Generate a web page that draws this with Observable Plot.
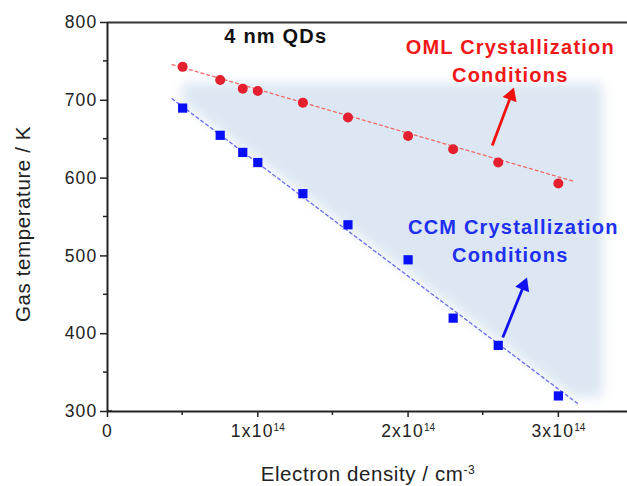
<!DOCTYPE html>
<html>
<head>
<meta charset="utf-8">
<script src="https://cdn.jsdelivr.net/npm/d3@7"></script>
<script src="https://cdn.jsdelivr.net/npm/@observablehq/plot@0.6"></script>
<style>
  html, body { margin: 0; padding: 0; background: #fff; }
  svg { font-family: "Liberation Sans", Arial, sans-serif; }
</style>
</head>
<body>
<div id="chart"></div>
<script>
// Electron density (cm^-3)
const density = [0.5e14, 0.75e14, 0.9e14, 1.0e14, 1.3e14, 1.6e14, 2.0e14, 2.3e14, 2.6e14, 3.0e14];
// OML crystallization conditions (K)
const omlTemp = [743, 726, 715, 712, 697, 678, 654, 637, 620, 593];
// CCM crystallization conditions (K)
const ccmTemp = [690, 655, 633, 620, 580, 540, 495, 420, 385, 320];
// dashed fit lines (end points)
const omlFitX = [0.43e14, 3.1e14];
const omlFitY = [746, 596];
const ccmFitX = [0.43e14, 3.13e14];
const ccmFitY = [702, 310];
// shaded region between the two conditions
const shadeX = [0.5e14, 3.1e14, 3.3e14];
const shadeLow = [697, 318, 318];
const shadeHigh = [722, 722, 722];
// arrows (shaft start -> head position) and head rotation in degrees
const arrowData = [
  {x1: 2.56e14, y1: 642, x2: 2.685e14, y2: 706, rot: 20, c: "#f01010"},
  {x1: 2.63e14, y1: 395, x2: 2.77e14, y2: 462, rot: 22, c: "#1010f0"}
];
// annotations
const labels = [
  {x: 1.12e14, y: 782, t: "4 nm QDs", c: "#111"},
  {x: 2.68e14, y: 768, t: "OML Crystallization", c: "#f01818"},
  {x: 2.68e14, y: 732, t: "Conditions", c: "#f01818"},
  {x: 2.70e14, y: 537, t: "CCM Crystallization", c: "#2030f0"},
  {x: 2.68e14, y: 500, t: "Conditions", c: "#2030f0"}
];
const xTicks = [0, 1e14, 2e14, 3e14];
const xMinor = [0.5e14, 1.5e14, 2.5e14];
const yTicks = [300, 400, 500, 600, 700, 800];
const yMinor = [350, 450, 550, 650, 750];

const shade = shadeX.map((x, i) => ({x, y1: shadeLow[i], y2: shadeHigh[i]}));
const oml = density.map((x, i) => ({x, y: omlTemp[i]}));
const ccm = density.map((x, i) => ({x, y: ccmTemp[i]}));
const omlFit = omlFitX.map((x, i) => ({x, y: omlFitY[i]}));
const ccmFit = ccmFitX.map((x, i) => ({x, y: ccmFitY[i]}));

const chart = Plot.plot({
  width: 627,
  height: 486,
  marginLeft: 107,
  marginRight: 0,
  marginTop: 22,
  marginBottom: 75,
  style: {fontFamily: "Liberation Sans, Arial, sans-serif", color: "#222", background: "#fff"},
  x: {type: "linear", domain: [0, 3.46e14], ticks: xTicks, tickSize: 6, tickPadding: 7,
      tickFormat: d => d === 0 ? "0" : `${d / 1e14}x10`, label: null},
  y: {type: "linear", domain: [300, 800], ticks: yTicks, tickSize: 7, tickPadding: 3, label: null},
  marks: [
    Plot.areaY(shade, {x: "x", y1: "y1", y2: "y2", fill: "#dce7f3", curve: "linear"}),
    Plot.line(omlFit, {x: "x", y: "y", stroke: "#f06a6a", strokeWidth: 1.3, strokeDasharray: "3,3"}),
    Plot.line(ccmFit, {x: "x", y: "y", stroke: "#6a6af0", strokeWidth: 1.3, strokeDasharray: "3,3"}),
    Plot.dot(oml, {x: "x", y: "y", r: 5, fill: "#e4202e", stroke: "none", symbol: "circle"}),
    Plot.dot(ccm, {x: "x", y: "y", r: 5.2, fill: "#0a10f5", stroke: "none", symbol: "square"}),
    Plot.link(arrowData, {x1: "x1", y1: "y1", x2: "x2", y2: "y2", stroke: "c", strokeWidth: 2.8}),
    Plot.dot(arrowData, {x: "x2", y: "y2", fill: "c", stroke: "none", symbol: "triangle", r: 5.5, rotate: "rot"}),
    Plot.text(labels, {x: "x", y: "y", text: "t", fill: "c", fontWeight: "bold", fontSize: 20}),
    Plot.ruleY([800], {stroke: "#333", strokeWidth: 2}),
    Plot.ruleY([300], {stroke: "#222", strokeWidth: 2}),
    Plot.ruleX([0], {stroke: "#222", strokeWidth: 2})
  ]
});

const svg = d3.select(chart);
// shaded region blur
svg.selectAll('g[aria-label="area"]').style("filter", "blur(6px)");
// annotation letter spacing
svg.selectAll('g[aria-label="text"] text').attr("letter-spacing", "1.2px");
const xs = chart.scale("x"), ys = chart.scale("y");
const minor = svg.append("g").attr("stroke", "#222").attr("stroke-width", 1.5);
xMinor.forEach(v => minor.append("line")
  .attr("x1", xs.apply(v)).attr("x2", xs.apply(v))
  .attr("y1", ys.apply(300)).attr("y2", ys.apply(300) + 4));
yMinor.forEach(v => minor.append("line")
  .attr("x1", xs.apply(0) - 4).attr("x2", xs.apply(0))
  .attr("y1", ys.apply(v)).attr("y2", ys.apply(v)));
// y tick at 300 crosses the axis
minor.append("line").attr("x1", xs.apply(0)).attr("x2", xs.apply(0) + 5)
  .attr("y1", ys.apply(300)).attr("y2", ys.apply(300));

// tick widths
svg.selectAll('g[aria-label="x-axis tick"], g[aria-label="y-axis tick"]').attr("stroke-width", 1.5).attr("stroke", "#222");
svg.selectAll('g[aria-label="x-axis tick label"], g[aria-label="y-axis tick label"]')
  .attr("font-size", "17.5px").attr("fill", "#222").attr("letter-spacing", "1.2px");

// superscript exponents for x tick labels
svg.selectAll('g[aria-label="x-axis tick label"] text').each(function() {
  const t = d3.select(this);
  const s = t.text();
  if (s !== "0") {
    t.append("tspan").attr("dy", "-0.6em").attr("font-size", "10px").attr("letter-spacing", "0px").text("14");
  }
});

// axis titles
svg.append("text")
  .attr("x", 368).attr("y", 481)
  .attr("text-anchor", "middle")
  .attr("font-size", "20.5px").attr("fill", "#222").attr("letter-spacing", "0.6px")
  .text("Electron density / cm")
  .append("tspan").attr("dy", "-0.6em").attr("font-size", "12px").text("-3");
svg.append("text")
  .attr("transform", "translate(30,224) rotate(-90)")
  .attr("text-anchor", "middle")
  .attr("font-size", "20.5px").attr("fill", "#222").attr("letter-spacing", "0.6px")
  .text("Gas temperature / K");

document.getElementById("chart").appendChild(chart);
</script>
</body>
</html>
